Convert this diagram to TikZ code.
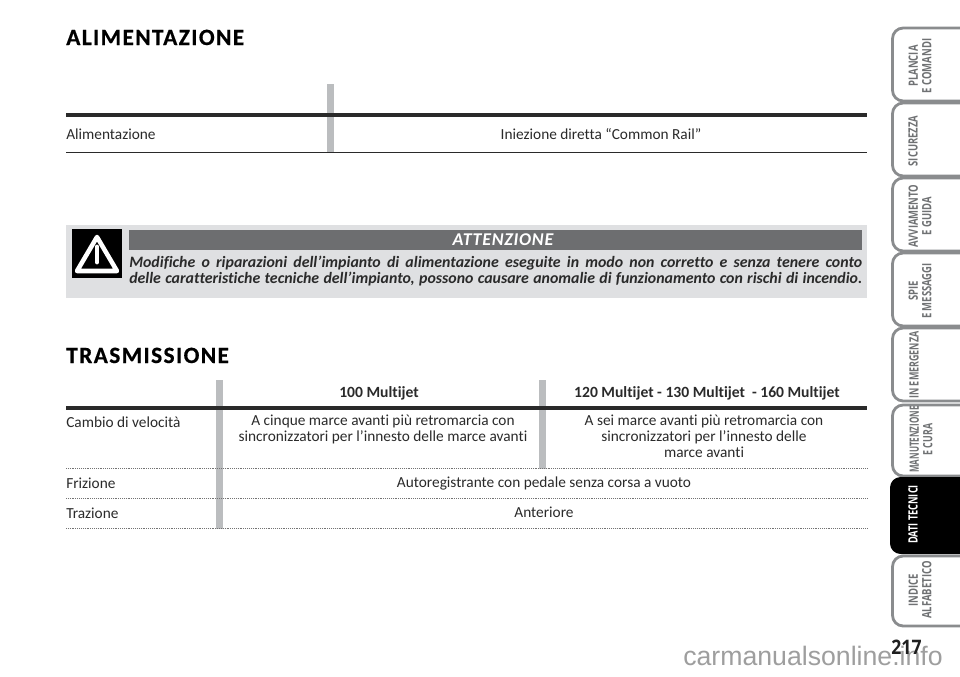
\documentclass[tikz,border=0pt]{standalone}
\usepackage{fontspec}
\setmainfont[Ligatures=NoCommon]{Carlito}
\newfontfamily\titlefont[Ligatures=NoCommon,LetterSpace=6,BoldFeatures={FakeBold=0.6}]{Carlito}
\newfontfamily\tabfont{Open Sans}
\newfontfamily\wmfont{Liberation Sans}
\definecolor{tabgray}{HTML}{8A8C8E}
\definecolor{tabtext}{HTML}{6F7173}
\definecolor{barblue}{HTML}{BBBDBF}
\definecolor{warnbg}{HTML}{DFE0E2}
\definecolor{warnbar}{HTML}{6D6E70}
\definecolor{inktext}{HTML}{2A2A2A}
\tikzset{
 x=0.75pt,y=-0.75pt,
 bodytxt/.style={font=\fontsize{11.5}{12}\selectfont,text=inktext,inner sep=0,align=center},
 lefttxt/.style={bodytxt,anchor=base west,align=left},
 headtxt/.style={font=\bfseries\fontsize{11.7}{12}\selectfont,text=inktext,inner sep=0},
 titletxt/.style={font=\titlefont\bfseries\fontsize{17.5}{18}\selectfont,text=black,inner sep=0,anchor=base west},
 warntxt/.style={font=\bfseries\itshape\fontsize{11.9}{12.8}\selectfont,text=inktext,inner sep=0,anchor=base west},
 vbar/.style={fill=barblue,draw=none},
 thickrule/.style={line width=2.8pt,draw=inktext},
 thinrule/.style={line width=0.9pt,draw=inktext},
 dotrule/.style={line width=0.4pt,draw=black!55,densely dotted},
 tabshape/.style={draw=tabgray,line width=2.1pt,fill=white,rounded corners=8pt},
 tablabel/.style={font=\tabfont\bfseries\fontsize{9.6}{10.6}\selectfont,text=tabtext,inner sep=0,rotate=90,align=center},
}
\begin{document}
\begin{tikzpicture}
\useasboundingbox (0,0) rectangle (960,676);
\fill[white] (0,0) rectangle (960,676);
% Titles
\node[titletxt] (t1) at (66,45) {ALIMENTAZIONE};
\node[titletxt] (t2) at (66,363) {TRASMISSIONE};
% Alimentazione table
\fill[vbar] (327,84) rectangle (334,153);
\draw[thickrule] (66,115) -- (867,115);
\draw[thinrule] (66,152.5) -- (867,152.5);
\node[lefttxt] (a1) at (66,139) {Alimentazione};
\node[bodytxt,anchor=base] (a2) at (601,139) {Iniezione diretta “Common Rail”};
% Warning
\fill[warnbg] (66,225) rectangle (867,298);
\fill[black] (72,229) rectangle (122,278);
\draw[white,line width=3.4pt,line join=round] (97,237) -- (117,271) -- (77,271) -- cycle;
\draw[white,line width=3.6pt,line cap=round] (97,247) -- (97,262);
\fill[warnbar] (129,229.5) rectangle (862,250);
\node[font=\bfseries\itshape\fontsize{13.5}{14}\selectfont,text=white,inner sep=0,anchor=base] (w0) at (503,245) {\addfontfeature{LetterSpace=4}ATTENZIONE};
\node[warntxt] (w1) at (129,267) {\hbox to 549.75pt{Modifiche o riparazioni dell’impianto di alimentazione eseguite in modo non corretto e senza tenere conto}};
\node[warntxt] (w2) at (129,283) {\hbox to 549.75pt{delle caratteristiche tecniche dell’impianto, possono causare anomalie di funzionamento con rischi di incendio.}};
% Trasmissione table
\fill[vbar] (216,380) rectangle (223,529);
\fill[vbar] (539,380) rectangle (546,469);
\draw[thickrule] (66,408) -- (867,408);
\draw[dotrule] (66,468.5) -- (867,468.5);
\draw[dotrule] (66,498.5) -- (867,498.5);
\draw[dotrule] (66,528.5) -- (867,528.5);
\node[headtxt,anchor=base] (h1) at (379,397) {100 Multijet};
\node[headtxt,anchor=base] (h2) at (707,397) {120 Multijet - 130 Multijet\ \ - 160 Multijet};
\node[lefttxt] (c1) at (66,427) {Cambio di velocità};
\node[lefttxt] (c2) at (66,488) {Frizione};
\node[lefttxt] (c3) at (66,518) {Trazione};
\node[bodytxt,anchor=base] (d1) at (383,441) {A cinque marce avanti più retromarcia con\\sincronizzatori per l’innesto delle marce avanti};
\node[bodytxt,anchor=base] (d2) at (704,457) {A sei marce avanti più retromarcia con\\sincronizzatori per l’innesto delle\\marce avanti};
\node[bodytxt,anchor=base] (d3) at (544,487) {Autoregistrante con pedale senza corsa a vuoto};
\node[bodytxt,anchor=base] (d4) at (544,517) {Anteriore};
% Tabs
\draw[tabshape] (975,28) -- (892.5,28) -- (892.5,101) -- (975,101);
\draw[tabshape] (975,103) -- (892.5,103) -- (892.5,176) -- (975,176);
\draw[tabshape] (975,178) -- (892.5,178) -- (892.5,251) -- (975,251);
\draw[tabshape] (975,253) -- (892.5,253) -- (892.5,326) -- (975,326);
\draw[tabshape] (975,328) -- (892.5,328) -- (892.5,401) -- (975,401);
\draw[tabshape] (975,405) -- (892.5,405) -- (892.5,476) -- (975,476);
\draw[tabshape] (975,556) -- (892.5,556) -- (892.5,626) -- (975,626);
\fill[black,rounded corners=8pt] (975,477) -- (890,477) -- (890,554) -- (975,554) -- cycle;
\node[tablabel] (n1) at (920,66) {\scalebox{0.74}[1]{\shortstack{PLANCIA\\E COMANDI}}};
\node[tablabel] (n2) at (913,141) {\scalebox{0.74}[1]{SICUREZZA}};
\node[tablabel] (n3) at (920,216) {\scalebox{0.74}[1]{\shortstack{AVVIAMENTO\\E GUIDA}}};
\node[tablabel] (n4) at (920,291) {\scalebox{0.74}[1]{\shortstack{SPIE\\E MESSAGGI}}};
\node[tablabel] (n5) at (914,365) {\scalebox{0.70}[1]{IN EMERGENZA}};
\node[tablabel] (n6) at (921,439.5) {\scalebox{0.63}[1]{\shortstack{MANUTENZIONE\\\scalebox{1.1}[1]{E CURA}}}};
\node[tablabel,text=white] (n7) at (913,514.5) {\scalebox{0.72}[1]{DATI TECNICI}};
\node[tablabel] (n8) at (920,590) {\scalebox{0.74}[1]{\shortstack{INDICE\\ALFABETICO}}};
% Watermark and page number
\node[font=\wmfont\fontsize{20}{20}\selectfont,text=black!38,inner sep=0,anchor=base east] (wm) at (943,665) {carmanualsonline.info};
\node[font=\tabfont\bfseries\fontsize{15}{15}\selectfont,text=black!88,inner sep=0,anchor=base] (pg) at (906.5,654.5) {\scalebox{0.88}[1]{217}};
\end{tikzpicture}
\end{document}
